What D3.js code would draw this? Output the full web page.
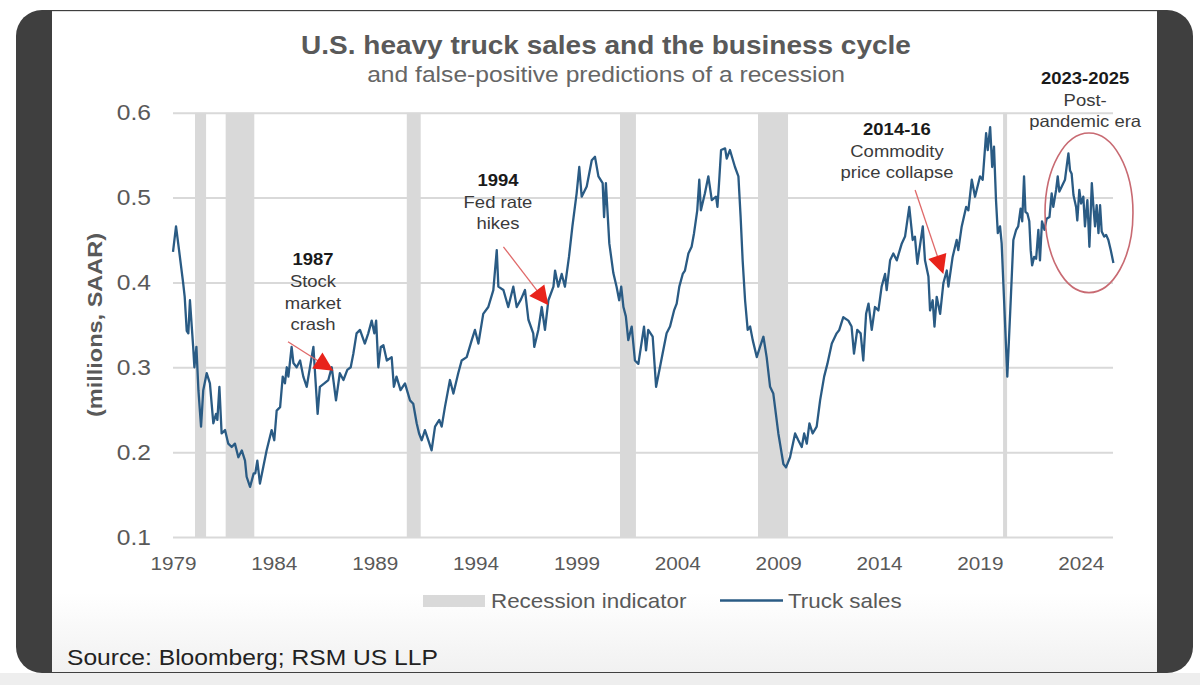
<!DOCTYPE html>
<html>
<head>
<meta charset="utf-8">
<script src="https://cdn.jsdelivr.net/npm/d3@7"></script>
<style>
  html, body { margin: 0; padding: 0; background: #ffffff; }
  svg { display: block; font-family: "Liberation Sans", Arial, Helvetica, sans-serif; }
</style>
</head>
<body>
<div id="wrap"></div>
<script>
var W = 1200, H = 685;
var SX = 1.12;            // the source glyphs are drawn a little wide
var lineColor = "#2a5b84";
var bandColor = "#d9d9d9";
var gridColor = "#d9d9d9";
var textGray = "#595959";

// truck sales, millions SAAR (decimal year)
var salesYear = [
  1979.00,1979.15,1979.30,1979.50,1979.58,1979.68,1979.76,1979.84,1980.00,1980.06,
  1980.16,1980.26,1980.39,1980.50,1980.67,1980.83,1981.00,1981.13,1981.20,1981.30,
  1981.41,1981.58,1981.74,1981.91,1982.07,1982.24,1982.41,1982.57,1982.65,1982.82,
  1983.00,1983.08,1983.18,1983.31,1983.48,1983.64,1983.89,1984.02,1984.14,1984.31,
  1984.44,1984.55,1984.64,1984.72,1984.88,1984.97,1985.13,1985.30,1985.46,1985.63,
  1985.79,1985.96,1986.17,1986.28,1986.50,1986.70,1986.87,1987.08,1987.27,1987.45,
  1987.64,1987.81,1987.94,1988.10,1988.27,1988.51,1988.68,1988.85,1988.98,1989.07,
  1989.18,1989.30,1989.43,1989.60,1989.84,1989.95,1990.08,1990.28,1990.50,1990.75,
  1990.91,1991.08,1991.20,1991.33,1991.49,1991.66,1991.82,1991.99,1992.20,1992.32,
  1992.48,1992.73,1992.90,1993.14,1993.31,1993.56,1993.81,1993.97,1994.14,1994.38,
  1994.63,1994.88,1995.05,1995.13,1995.38,1995.62,1995.87,1996.04,1996.25,1996.45,
  1996.62,1996.86,1996.91,1997.11,1997.28,1997.44,1997.61,1997.86,1997.94,1998.10,
  1998.27,1998.43,1998.63,1998.80,1999.01,1999.14,1999.26,1999.51,1999.76,1999.92,
  2000.09,2000.30,2000.37,2000.46,2000.63,2000.83,2000.99,2001.12,2001.22,2001.33,
  2001.45,2001.57,2001.74,2001.90,2002.07,2002.35,2002.45,2002.56,2002.78,2002.95,
  2003.14,2003.27,2003.47,2003.64,2003.84,2003.97,2004.10,2004.27,2004.38,2004.55,
  2004.71,2004.83,2004.99,2005.09,2005.17,2005.37,2005.54,2005.71,2005.92,2005.99,
  2006.07,2006.17,2006.37,2006.45,2006.61,2006.86,2007.03,2007.14,2007.24,2007.36,
  2007.49,2007.61,2007.74,2007.94,2008.10,2008.27,2008.43,2008.60,2008.76,2009.01,
  2009.26,2009.39,2009.59,2009.84,2010.00,2010.17,2010.29,2010.42,2010.55,2010.71,
  2010.91,2011.08,2011.28,2011.44,2011.66,2011.90,2012.03,2012.23,2012.48,2012.64,
  2012.76,2012.92,2013.09,2013.22,2013.36,2013.48,2013.64,2013.80,2013.97,2014.13,
  2014.30,2014.38,2014.55,2014.71,2014.88,2015.13,2015.29,2015.50,2015.67,2015.78,
  2015.90,2016.17,2016.28,2016.45,2016.53,2016.66,2016.75,2016.86,2017.03,2017.19,
  2017.36,2017.44,2017.65,2017.85,2017.93,2018.10,2018.32,2018.43,2018.60,2018.76,
  2019.01,2019.14,2019.31,2019.39,2019.51,2019.61,2019.70,2019.80,2019.89,2020.00,
  2020.08,2020.20,2020.36,2020.53,2020.66,2020.80,2020.90,2021.02,2021.10,2021.19,
  2021.26,2021.36,2021.45,2021.52,2021.59,2021.69,2021.79,2021.90,2021.98,2022.08,
  2022.20,2022.31,2022.45,2022.56,2022.64,2022.78,2022.86,2022.94,2023.06,2023.22,
  2023.31,2023.39,2023.47,2023.55,2023.64,2023.77,2023.83,2023.93,2024.02,2024.13,
  2024.21,2024.33,2024.43,2024.55,2024.63,2024.71,2024.79,2024.88,2024.96,2025.04,
  2025.16,2025.26,2025.37,2025.49,2025.62
];
var salesValue = [
  0.436,0.466,0.438,0.400,0.383,0.343,0.340,0.379,0.324,0.300,
  0.324,0.273,0.230,0.273,0.293,0.281,0.234,0.245,0.238,0.277,
  0.222,0.226,0.210,0.206,0.210,0.194,0.202,0.190,0.171,0.159,
  0.175,0.175,0.190,0.163,0.183,0.202,0.226,0.214,0.249,0.253,
  0.289,0.281,0.300,0.289,0.324,0.305,0.300,0.308,0.289,0.277,
  0.300,0.324,0.245,0.277,0.281,0.285,0.300,0.261,0.293,0.285,
  0.297,0.300,0.316,0.340,0.344,0.328,0.340,0.355,0.340,0.355,
  0.300,0.324,0.326,0.308,0.312,0.277,0.289,0.273,0.281,0.261,
  0.257,0.234,0.222,0.214,0.226,0.214,0.202,0.230,0.238,0.230,
  0.253,0.285,0.269,0.293,0.308,0.312,0.332,0.344,0.328,0.363,
  0.371,0.391,0.438,0.395,0.391,0.371,0.395,0.371,0.380,0.391,
  0.356,0.340,0.324,0.344,0.371,0.344,0.379,0.395,0.414,0.395,
  0.410,0.395,0.430,0.466,0.505,0.536,0.501,0.513,0.544,0.548,
  0.525,0.517,0.477,0.517,0.446,0.411,0.395,0.379,0.395,0.371,
  0.360,0.332,0.348,0.308,0.304,0.348,0.320,0.344,0.336,0.277,
  0.300,0.316,0.340,0.348,0.367,0.375,0.395,0.410,0.414,0.434,
  0.442,0.458,0.485,0.521,0.485,0.505,0.525,0.497,0.501,0.489,
  0.517,0.556,0.558,0.546,0.556,0.536,0.525,0.477,0.426,0.379,
  0.344,0.348,0.332,0.312,0.324,0.336,0.312,0.277,0.269,0.222,
  0.186,0.182,0.194,0.222,0.214,0.206,0.222,0.210,0.234,0.222,
  0.230,0.261,0.289,0.304,0.328,0.340,0.344,0.359,0.355,0.348,
  0.316,0.344,0.340,0.308,0.363,0.375,0.344,0.371,0.367,0.395,
  0.410,0.391,0.426,0.434,0.426,0.446,0.454,0.489,0.450,0.454,
  0.422,0.466,0.426,0.407,0.367,0.379,0.348,0.383,0.363,0.399,
  0.414,0.395,0.430,0.450,0.438,0.466,0.489,0.485,0.521,0.501,
  0.525,0.521,0.576,0.556,0.583,0.536,0.560,0.497,0.458,0.466,
  0.446,0.379,0.289,0.379,0.450,0.462,0.466,0.487,0.472,0.525,
  0.483,0.481,0.472,0.438,0.420,0.430,0.428,0.462,0.426,0.472,
  0.462,0.475,0.477,0.505,0.489,0.509,0.525,0.507,0.513,0.521,
  0.538,0.552,0.532,0.528,0.503,0.489,0.473,0.509,0.493,0.501,
  0.466,0.497,0.442,0.517,0.489,0.466,0.491,0.458,0.491,0.460,
  0.454,0.456,0.450,0.438,0.423
];

// recession indicator bands (decimal year)
var recessionStart = [1980.09, 1981.61, 1990.59, 2001.16, 2008.00, 2020.15];
var recessionEnd   = [1980.64, 1983.03, 1991.28, 2001.95, 2009.49, 2020.35];

var yTicks = [0.1, 0.2, 0.3, 0.4, 0.5, 0.6];
var xTicks = [1979, 1984, 1989, 1994, 1999, 2004, 2009, 2014, 2019, 2024];

// annotations
var noteHead  = ["1987", "1994", "2014-16", "2023-2025"];
var noteBody  = [["Stock", "market", "crash"], ["Fed rate", "hikes"], ["Commodity", "price collapse"], ["Post-", "pandemic era"]];
var noteYear  = [1985.94, 1995.11, 2014.89, 2024.22];
var noteValue = [0.4204, 0.5136, 0.5737, 0.6338];
var arrowFrom = [[1984.70, 0.330], [1995.38, 0.442], [2015.79, 0.509]];
var arrowTo   = [[1986.95, 0.296], [1997.61, 0.373], [2017.19, 0.410]];
var ringCenter = [2024.41, 0.482];
var ringRadius = [2.18, 0.094];

var svg = d3.select('#wrap')
  .append('svg')
  .attr("width", W)
  .attr("height", H);

// --- screenshot frame ---
svg.append("rect").attr("width", W).attr("height", H).attr("fill", "#ffffff");
svg.append("rect").attr("x", 0).attr("y", 673).attr("width", W).attr("height", 12).attr("fill", "#eeeeee");
svg.append("rect")
  .attr("x", 16).attr("y", 10).attr("width", 1177).attr("height", 663)
  .attr("rx", 26).attr("fill", "#3f3f3f");

var grad = svg.append("defs").append("linearGradient")
  .attr("id", "panelfade").attr("x1", 0).attr("y1", 0).attr("x2", 0).attr("y2", 1);
grad.append("stop").attr("offset", "0.88").attr("stop-color", "#ffffff");
grad.append("stop").attr("offset", "1").attr("stop-color", "#f1f1f1");

svg.append("rect")
  .attr("x", 52).attr("y", 11).attr("width", 1105).attr("height", 661)
  .attr("fill", "url(#panelfade)");
svg.append("line")
  .attr("x1", 52).attr("x2", 1157).attr("y1", 11.5).attr("y2", 11.5)
  .attr("stroke", "#dedede").attr("stroke-width", 1);

// helper: text drawn a bit wider than the font, like the picture
function stretchText(parent, tx, ty, str, size, weight, color, anchor) {
  return parent.append("text")
    .attr("transform", "translate(" + tx + "," + ty + ") scale(" + SX + ",1)")
    .attr("text-anchor", anchor || "middle")
    .style("font-size", size + "px")
    .style("font-weight", weight || "normal")
    .attr("fill", color || textGray)
    .text(str);
}

// --- titles ---
stretchText(svg, 606, 54, "U.S. heavy truck sales and the business cycle", 25, "bold", textGray);
stretchText(svg, 606, 82, "and false-positive predictions of a recession", 22, "normal", "#666666");

// --- plot ---
var plotLeft = 173, plotTop = 112.7, plotRight = 1113, plotBottom = 537;
var x = d3.scaleLinear().domain([1979, 2025.6]).range([plotLeft, plotRight]);
var y = d3.scaleLinear().domain([0.1, 0.6]).range([plotBottom, plotTop]);

var yAxis = svg.append("g")
  .attr("transform", "translate(" + plotLeft + ",0)")
  .call(d3.axisLeft(y).tickValues(yTicks).tickFormat(d3.format(".1f"))
    .tickSize(-(plotRight - plotLeft)).tickPadding(22));
yAxis.select(".domain").remove();
yAxis.selectAll(".tick line").attr("stroke", gridColor).attr("stroke-width", 2);
yAxis.selectAll(".tick text")
  .attr("x", 0)
  .attr("transform", "translate(-22,0) scale(" + SX + ",1)")
  .attr("fill", textGray)
  .style("font-size", "22px")
  .style("font-family", "inherit");

var bands = svg.append("g");
recessionStart.forEach(function (s, i) {
  bands.append("rect")
    .attr("x", x(s))
    .attr("y", y(0.6))
    .attr("width", x(recessionEnd[i]) - x(s))
    .attr("height", y(0.1) - y(0.6))
    .attr("fill", bandColor);
});

var xAxis = svg.append("g")
  .attr("transform", "translate(0," + plotBottom + ")")
  .call(d3.axisBottom(x).tickValues(xTicks).tickFormat(d3.format("d"))
    .tickSize(0).tickPadding(20));
xAxis.select(".domain").remove();
xAxis.selectAll(".tick text")
  .attr("transform", "scale(" + SX + ",1)")
  .attr("fill", textGray)
  .style("font-size", "18.5px")
  .style("font-family", "inherit");

var sales = salesYear.map(function (d, i) { return { year: d, value: salesValue[i] }; });
var line = d3.line()
  .x(function (d) { return x(d.year); })
  .y(function (d) { return y(d.value); });

svg.append("path")
  .datum(sales)
  .attr("d", line)
  .attr("fill", "none")
  .attr("stroke", lineColor)
  .attr("stroke-width", 2.3)
  .attr("stroke-linejoin", "round");

// y axis title
svg.append("text")
  .attr("transform", "translate(102,325) rotate(-90) scale(" + SX + ",1)")
  .attr("text-anchor", "middle")
  .style("font-size", "21px")
  .style("font-weight", "bold")
  .attr("fill", textGray)
  .text("(millions, SAAR)");

// --- annotations ---
var notes = svg.append("g");
noteHead.forEach(function (h, i) {
  var nx = x(noteYear[i]), ny = y(noteValue[i]);
  stretchText(notes, nx, ny, h, 16.5, "bold", "#1a1a1a");
  noteBody[i].forEach(function (t, j) {
    stretchText(notes, nx, ny + 21.7 * (j + 1), t, 16.5, "normal", "#3a3a3a");
  });
});

arrowFrom.forEach(function (f, i) {
  var x0 = x(f[0]), y0 = y(f[1]);
  var x1 = x(arrowTo[i][0]), y1 = y(arrowTo[i][1]);
  var dx = x1 - x0, dy = y1 - y0, len = Math.sqrt(dx * dx + dy * dy);
  var ux = dx / len, uy = dy / len;
  var L = 19, hw = 9.5;
  notes.append("line")
    .attr("x1", x0).attr("y1", y0)
    .attr("x2", x1 - ux * (L - 2)).attr("y2", y1 - uy * (L - 2))
    .attr("stroke", "#e06a6a").attr("stroke-width", 1.3);
  var bx = x1 - ux * L, by = y1 - uy * L;
  notes.append("path")
    .attr("d", "M" + x1 + "," + y1 +
               "L" + (bx - uy * hw) + "," + (by + ux * hw) +
               "L" + (bx + uy * hw) + "," + (by - ux * hw) + "Z")
    .attr("fill", "#e8231b");
});

notes.append("ellipse")
  .attr("cx", x(ringCenter[0]))
  .attr("cy", y(ringCenter[1]))
  .attr("rx", x(ringCenter[0] + ringRadius[0]) - x(ringCenter[0]))
  .attr("ry", y(ringCenter[1] - ringRadius[1]) - y(ringCenter[1]))
  .attr("fill", "none")
  .attr("stroke", "#c86a72")
  .attr("stroke-width", 1.6);

// --- legend ---
var legend = svg.append("g");
legend.append("rect")
  .attr("x", 423).attr("y", 595).attr("width", 62).attr("height", 12)
  .attr("fill", bandColor);
stretchText(legend, 491, 607.5, "Recession indicator", 20, "normal", textGray, "start");
legend.append("line")
  .attr("x1", 720).attr("x2", 783).attr("y1", 600.5).attr("y2", 600.5)
  .attr("stroke", lineColor).attr("stroke-width", 2.5);
stretchText(legend, 788, 607.5, "Truck sales", 20, "normal", textGray, "start");

// --- source ---
stretchText(svg, 67, 665, "Source: Bloomberg; RSM US LLP", 22, "normal", "#222222", "start");
</script>
</body>
</html>
